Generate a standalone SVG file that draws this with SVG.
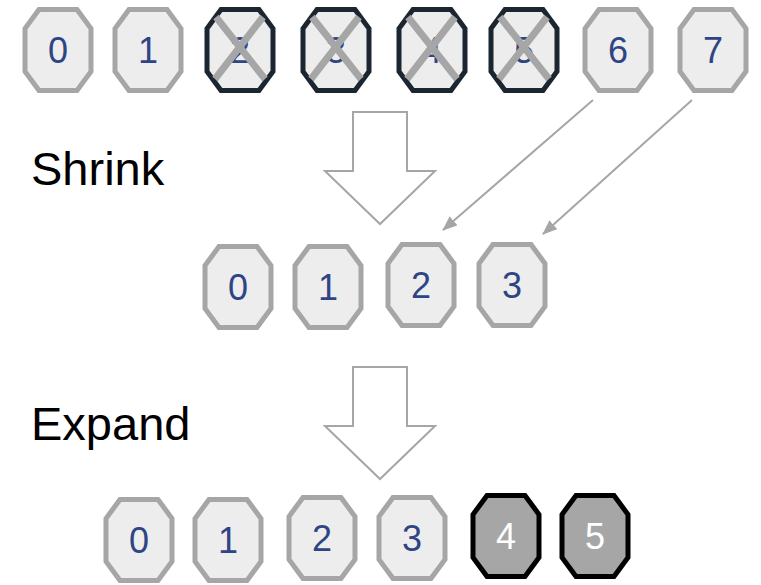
<svg xmlns="http://www.w3.org/2000/svg" width="761" height="585" viewBox="0 0 761 585">
  <style>
    .oct { stroke-width: 5; stroke-linejoin: miter; }
    .keep { fill: #ededed; stroke: #a6a6a6; }
    .drop { fill: #ededed; stroke: #1b2631; }
    .added { fill: #a6a6a6; stroke: #000000; }
    .num { font-family: "Liberation Sans", Arial, sans-serif; font-size: 36px; text-anchor: middle; fill: #2e4585; }
    .added-num { fill: #ffffff; }
    .cross { stroke: #a6a6a6; stroke-width: 7; }
    .label { font-family: "Liberation Sans", Arial, sans-serif; font-size: 47px; fill: #000000; }
    .block { fill: #ffffff; stroke: #a6a6a6; stroke-width: 2; }
    .link { stroke: #a6a6a6; stroke-width: 2; fill: none; }
  </style>
  <defs>
    <path id="octagon" d="M-19,-40.5 L19,-40.5 L33,-21.5 L33,21.5 L19,40.5 L-19,40.5 L-33,21.5 L-33,-21.5 Z"/>
    <g id="x-mark">
      <line x1="-24" y1="-33" x2="25" y2="29"/>
      <line x1="23" y1="-33" x2="-25" y2="29"/>
    </g>
    <marker id="tip" markerWidth="15" markerHeight="12" refX="14" refY="6" orient="auto" markerUnits="userSpaceOnUse">
      <path d="M0,0 L15,6 L0,12 Z" fill="#a6a6a6"/>
    </marker>
  </defs>

  <rect width="761" height="585" fill="#ffffff"/>

  <!-- labels -->
  <text class="label" x="31" y="185">Shrink</text>
  <text class="label" x="31" y="440">Expand</text>

  <!-- original row of eight slots -->
  <g id="top-0" transform="translate(58,50)"><use href="#octagon" class="oct keep"/><text class="num" y="13">0</text></g>
  <g id="top-1" transform="translate(148,50)"><use href="#octagon" class="oct keep"/><text class="num" y="13">1</text></g>
  <g id="top-2" transform="translate(240,50)"><use href="#octagon" class="oct drop"/><text class="num" y="13">2</text><use href="#x-mark" class="cross"/></g>
  <g id="top-3" transform="translate(336,50)"><use href="#octagon" class="oct drop"/><text class="num" y="13">3</text><use href="#x-mark" class="cross"/></g>
  <g id="top-4" transform="translate(432,50)"><use href="#octagon" class="oct drop"/><text class="num" y="13">4</text><use href="#x-mark" class="cross"/></g>
  <g id="top-5" transform="translate(524,50)"><use href="#octagon" class="oct drop"/><text class="num" y="13">5</text><use href="#x-mark" class="cross"/></g>
  <g id="top-6" transform="translate(618,50)"><use href="#octagon" class="oct keep"/><text class="num" y="13">6</text></g>
  <g id="top-7" transform="translate(713,50)"><use href="#octagon" class="oct keep"/><text class="num" y="13">7</text></g>

  <!-- block arrows between stages -->
  <g id="shrink-arrow">
    <path class="block" d="M353,112 L407,112 L407,171 L435,171 L380,224 L325,171 L353,171 Z"/>
  </g>
  <g id="expand-arrow">
    <path class="block" d="M353,367 L407,367 L407,426 L435,426 L380,479 L325,426 L353,426 Z"/>
  </g>

  <!-- shrunk row of four slots -->
  <g id="mid-0" transform="translate(238,287)"><use href="#octagon" class="oct keep"/><text class="num" y="13">0</text></g>
  <g id="mid-1" transform="translate(328,287)"><use href="#octagon" class="oct keep"/><text class="num" y="13">1</text></g>
  <g id="mid-2" transform="translate(421,285)"><use href="#octagon" class="oct keep"/><text class="num" y="13">2</text></g>
  <g id="mid-3" transform="translate(512,285)"><use href="#octagon" class="oct keep"/><text class="num" y="13">3</text></g>

  <!-- expanded row of six slots -->
  <g id="bot-0" transform="translate(139,540)"><use href="#octagon" class="oct keep"/><text class="num" y="13">0</text></g>
  <g id="bot-1" transform="translate(228,540)"><use href="#octagon" class="oct keep"/><text class="num" y="13">1</text></g>
  <g id="bot-2" transform="translate(322,538)"><use href="#octagon" class="oct keep"/><text class="num" y="13">2</text></g>
  <g id="bot-3" transform="translate(412,538)"><use href="#octagon" class="oct keep"/><text class="num" y="13">3</text></g>
  <g id="bot-4" transform="translate(506,536)"><use href="#octagon" class="oct added"/><text class="num added-num" y="13">4</text></g>
  <g id="bot-5" transform="translate(595,536)"><use href="#octagon" class="oct added"/><text class="num added-num" y="13">5</text></g>

  <!-- moved entries -->
  <g id="connectors">
    <line class="link" x1="593" y1="100" x2="443" y2="230" marker-end="url(#tip)"/>
    <line class="link" x1="692" y1="100" x2="543" y2="234" marker-end="url(#tip)"/>
  </g>
</svg>
